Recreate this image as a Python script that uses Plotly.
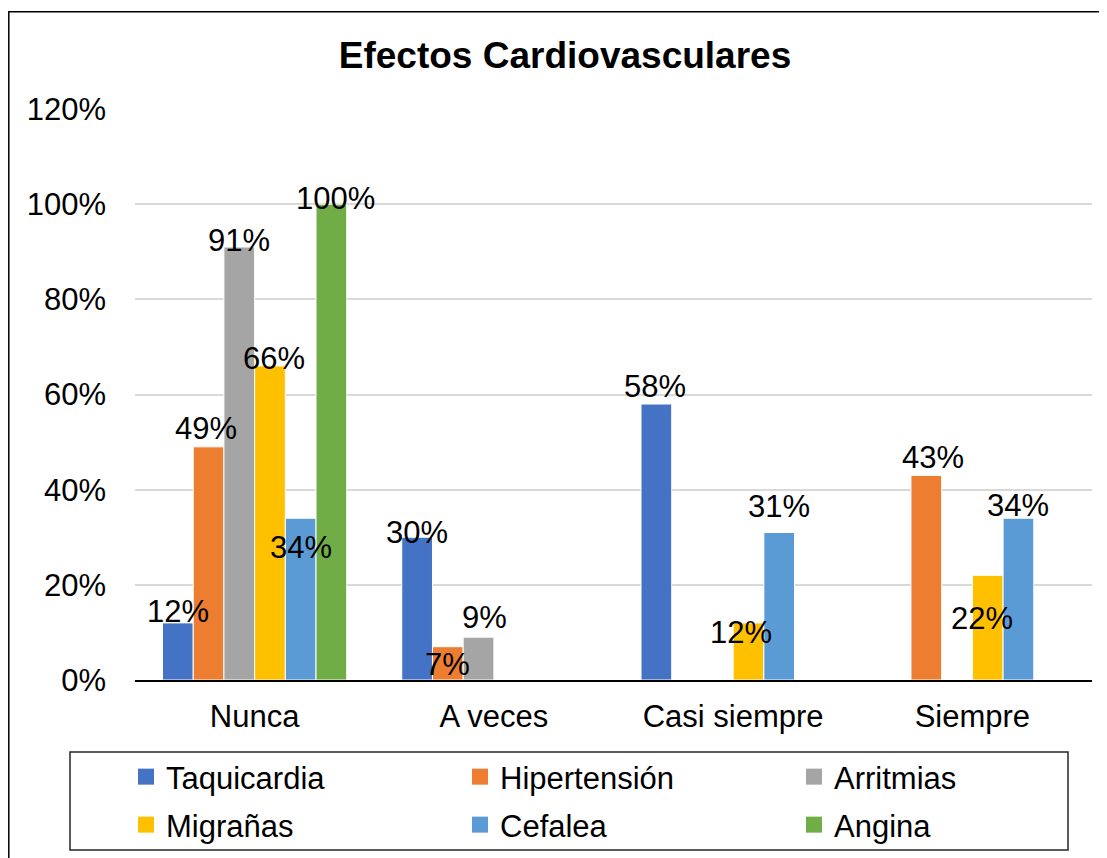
import plotly.graph_objects as go

# ---- data ----
categories = ["Nunca", "A veces", "Casi siempre", "Siempre"]
series_names = ["Taquicardia", "Hipertensión", "Arritmias", "Migrañas", "Cefalea", "Angina"]
taquicardia = [0.12, 0.30, 0.58, None]
hipertension = [0.49, 0.07, None, 0.43]
arritmias = [0.91, 0.09, None, None]
migranas = [0.66, None, 0.12, 0.22]
cefalea = [0.34, None, 0.31, 0.34]
angina = [1.00, None, None, None]
y_ticks = [0, 0.2, 0.4, 0.6, 0.8, 1.0, 1.2]

series_values = [taquicardia, hipertension, arritmias, migranas, cefalea, angina]

# ---- styles ----
colors = ["#4472C4", "#ED7D31", "#A5A5A5", "#FFC000", "#5B9BD5", "#70AD47"]
legend_row = ["legend", "legend", "legend", "legend2", "legend2", "legend2"]
FONT = "Liberation Sans, Arial, sans-serif"
BARGAP = 0.23

# per-label nudges in pixels (dx, dy): as placed in the original chart
label_nudge = {
    (0, 0): (0, 11), (0, 1): (-3, 18), (0, 2): (0, 6), (0, 3): (4, 7), (0, 4): (0, -29), (0, 5): (4, 6),
    (1, 0): (0, 5), (1, 1): (0, -18), (1, 2): (6, 20),
    (2, 0): (-1, 18), (2, 3): (-7, -10), (2, 4): (0, 26),
    (3, 1): (7, 18), (3, 3): (-6, -43), (3, 4): (0, 13),
}

x_idx = list(range(len(categories)))
fig = go.Figure()
for name, vals, col in zip(series_names, series_values, colors):
    fig.add_trace(go.Bar(
        x=x_idx, y=vals, name=name, showlegend=False,
        marker=dict(color=col, line=dict(color="white", width=1)),
    ))
# legend keys (square swatches like the original)
for name, col, lg in zip(series_names, colors, legend_row):
    fig.add_trace(go.Scatter(
        x=[None], y=[None], name=name, legend=lg, mode="markers",
        marker=dict(symbol="square", size=16, color=col), hoverinfo="skip",
    ))

# data labels as annotations, positioned at each bar's centre via the group layout
n = len(series_names)
w = (1 - BARGAP) / n
annotations = []
for si, vals in enumerate(series_values):
    for ci, v in enumerate(vals):
        if v is None:
            continue
        dx, dy = label_nudge.get((ci, si), (0, 10))
        annotations.append(dict(
            x=ci - (1 - BARGAP) / 2 + (si + 0.5) * w, y=v, xref="x", yref="y",
            text=f"{round(v * 100)}%", showarrow=False,
            xanchor="center", yanchor="middle", xshift=dx, yshift=dy,
            font=dict(family=FONT, size=31, color="black"),
        ))

legend_common = dict(orientation="h", xanchor="left", yanchor="middle", itemsizing="trace",
                     entrywidth=289, entrywidthmode="pixels", borderwidth=0,
                     font=dict(family=FONT, size=31, color="black"), bgcolor="rgba(0,0,0,0)")

W, H = 1099, 850          # page adds an 8px body margin
L, R, T, B = 127, 15, 101, 178
PW, PH = W - L - R, H - T - B


def px(xp):   # page x -> paper x
    return (xp - 8 - L) / PW


def py(yp):   # page y -> paper y
    return (H - B - (yp - 8)) / PH


fig.update_layout(
    width=W, height=H,
    paper_bgcolor="white", plot_bgcolor="white",
    margin=dict(l=L, r=R, t=T, b=B, autoexpand=False),
    barmode="group", bargap=BARGAP, bargroupgap=0,
    title=dict(text="<b>Efectos Cardiovasculares</b>", x=(565 - 8) / W, xanchor="center",
               xref="container", yref="container", y=1 - 47 / H, yanchor="middle",
               font=dict(family=FONT, size=37, color="black")),
    font=dict(family=FONT, size=31, color="black"),
    annotations=annotations,
    showlegend=True,
    legend=dict(x=px(126), y=py(777), **legend_common),
    legend2=dict(x=px(126), y=py(825), **legend_common),
    shapes=[
        # outer chart border
        dict(type="rect", xref="paper", yref="paper",
             x0=px(8.8), x1=1.2, y0=-0.5, y1=py(11.7),
             line=dict(color="black", width=1.5), fillcolor="rgba(0,0,0,0)", layer="below"),
        # legend frame
        dict(type="rect", xref="paper", yref="paper",
             x0=px(70), x1=px(1068), y0=py(850), y1=py(752),
             line=dict(color="#262626", width=1.5), fillcolor="rgba(0,0,0,0)", layer="below"),
    ],
)
fig.update_xaxes(
    tickmode="array", tickvals=x_idx, ticktext=categories, range=[-0.5, len(categories) - 0.5],
    showgrid=False, zeroline=False, showline=True, linecolor="black", linewidth=1.5,
    ticks="", ticklabelstandoff=8, tickfont=dict(family=FONT, size=31, color="black"),
)
fig.update_yaxes(
    range=[0, 1.2], tickmode="array", tickvals=y_ticks, tickformat=".0%",
    showgrid=True, gridcolor="#D9D9D9", gridwidth=1.5, zeroline=False, showline=False,
    ticks="", ticklabelstandoff=28, tickfont=dict(family=FONT, size=31, color="black"),
)

fig.write_html("out.html")
